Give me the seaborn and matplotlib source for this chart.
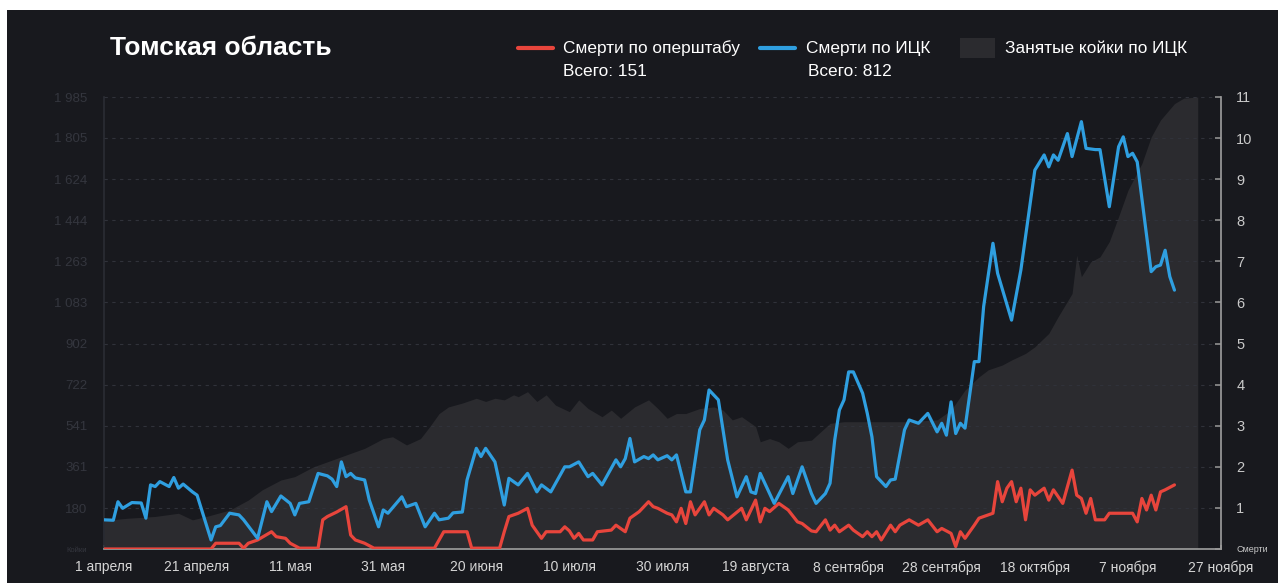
import pandas as pd
import seaborn as sns
import matplotlib.pyplot as plt
from matplotlib.patches import Rectangle
from matplotlib.lines import Line2D

start = pd.Timestamp("2020-04-01")

# Смерти по ИЦК: день от 1 апреля -> значение
icc_days = [0, 2, 3, 4, 6, 8, 9, 10, 11, 12, 14, 15, 16, 17, 19, 20, 23, 24, 25, 27,
            29, 30, 33, 35, 36, 38, 40, 41, 42, 44, 46, 48, 49, 50, 51, 52, 53, 54, 56, 57,
            59, 60, 61, 64, 65, 67, 69, 71, 72, 74, 75, 77, 78, 80, 81, 82, 84, 86, 87, 89,
            91, 93, 94, 96, 99, 100, 102, 104, 105, 107, 110, 111, 112, 113, 114, 116, 117, 118, 119, 121,
            122, 123, 125, 126, 128, 129, 130, 132, 134, 136, 138, 139, 140, 141, 144, 147, 148, 150, 152, 153,
            155, 156, 157, 158, 159, 160, 161, 163, 164, 165, 166, 168, 169, 170, 172, 173, 175, 177, 179, 180,
            181, 182, 183, 184, 185, 187, 188, 189, 191, 192, 195, 197, 200, 202, 203, 204, 205, 207, 208, 210,
            211, 213, 214, 216, 218, 219, 220, 221, 222, 225, 226, 227, 228, 229, 230]
icc_vals = [0.71, 0.70, 1.15, 0.99, 1.13, 1.12, 0.75, 1.56, 1.52, 1.64, 1.52, 1.74, 1.48, 1.58, 1.39, 1.31, 0.22, 0.54, 0.57, 0.87,
            0.83, 0.71, 0.26, 1.15, 0.91, 1.29, 1.11, 0.83, 1.11, 1.15, 1.84, 1.78, 1.70, 1.52, 2.12, 1.76, 1.84, 1.73, 1.68, 1.19,
            0.54, 0.95, 0.87, 1.27, 1.03, 1.11, 0.54, 0.87, 0.71, 0.75, 0.88, 0.90, 1.68, 2.45, 2.25, 2.45, 2.12, 1.07, 1.72, 1.56,
            1.84, 1.39, 1.56, 1.39, 2.00, 2.00, 2.12, 1.76, 1.84, 1.56, 2.17, 2.00, 2.20, 2.69, 2.12, 2.25, 2.20, 2.29, 2.17, 2.27,
            2.17, 2.29, 1.39, 1.39, 2.90, 3.14, 3.87, 3.63, 2.17, 1.27, 1.76, 1.39, 1.35, 1.84, 1.11, 1.76, 1.35, 2.00, 1.35, 1.11,
            1.35, 1.60, 2.65, 3.38, 3.63, 4.31, 4.31, 3.79, 3.30, 2.73, 1.76, 1.52, 1.68, 1.70, 2.90, 3.14, 3.06, 3.30, 2.85, 3.06,
            2.77, 3.58, 2.81, 3.06, 2.94, 4.56, 4.56, 5.90, 7.44, 6.71, 5.57, 6.79, 9.22, 9.59, 9.30, 9.59, 9.46, 10.11, 9.55, 10.40,
            9.75, 9.72, 9.72, 8.33, 9.79, 10.03, 9.55, 9.63, 9.42, 6.75, 6.87, 6.91, 7.27, 6.63, 6.30]

# Смерти по оперштабу
op_days = [0, 23, 24, 29, 30, 31, 33, 36, 37, 39, 40, 42, 46, 47, 48, 50, 52, 53, 54, 56,
           58, 71, 73, 78, 79, 85, 86, 87, 89, 91, 92, 94, 95, 98, 99, 100, 101, 102, 103, 105,
           106, 109, 110, 112, 113, 115, 117, 118, 119, 121, 122, 123, 124, 125, 126, 127, 129, 130, 131, 133,
           134, 137, 138, 140, 141, 142, 143, 145, 147, 149, 150, 152, 153, 155, 156, 157, 158, 160, 161, 163,
           164, 165, 166, 167, 169, 170, 171, 173, 175, 177, 179, 180, 182, 183, 184, 185, 187, 188, 191, 192,
           193, 194, 195, 196, 197, 198, 199, 200, 202, 203, 204, 206, 208, 209, 210, 211, 212, 213, 215, 216,
           221, 222, 223, 224, 225, 226, 227, 228, 230]
op_vals = [0.0, 0.0, 0.14, 0.14, 0.02, 0.14, 0.22, 0.42, 0.30, 0.26, 0.14, 0.02, 0.02, 0.71, 0.79, 0.90, 1.03, 0.34, 0.22, 0.14,
           0.02, 0.02, 0.42, 0.42, 0.02, 0.02, 0.42, 0.79, 0.87, 0.99, 0.58, 0.26, 0.42, 0.42, 0.54, 0.44, 0.26, 0.38, 0.22, 0.22,
           0.42, 0.46, 0.58, 0.42, 0.75, 0.91, 1.15, 1.03, 0.99, 0.87, 0.83, 0.66, 0.99, 0.62, 1.15, 0.83, 1.15, 0.83, 0.99, 0.83,
           0.71, 0.99, 0.71, 1.19, 0.66, 0.99, 0.91, 1.11, 0.95, 0.66, 0.62, 0.44, 0.42, 0.71, 0.46, 0.58, 0.42, 0.58, 0.46, 0.30,
           0.42, 0.30, 0.42, 0.22, 0.58, 0.42, 0.58, 0.71, 0.58, 0.71, 0.42, 0.50, 0.38, 0.06, 0.42, 0.26, 0.58, 0.75, 0.87, 1.64,
           1.15, 1.48, 1.64, 1.15, 1.48, 0.71, 1.44, 1.31, 1.48, 1.19, 1.44, 1.11, 1.92, 1.31, 1.23, 0.87, 1.23, 0.71, 0.71, 0.87,
           0.87, 0.66, 1.23, 0.95, 1.31, 0.95, 1.39, 1.44, 1.56]

# Занятые койки по ИЦК
beds_days = [0, 5, 11, 16, 19, 22, 27, 31, 34, 38, 41, 45, 48, 53, 56, 60, 62, 65, 68, 70,
             72, 74, 77, 80, 82, 84, 86, 88, 89, 91, 93, 95, 97, 100, 102, 104, 107, 109, 111, 114,
             117, 119, 121, 123, 125, 128, 131, 133, 135, 137, 140, 141, 143, 145, 147, 149, 152, 156, 159, 172,
             179, 182, 185, 188, 190, 193, 195, 198, 200, 203, 205, 208, 209, 210, 212, 214, 216, 218, 220, 223,
             225, 227, 230, 232, 235]
beds_vals = [125, 135, 143, 157, 128, 143, 171, 215, 260, 303, 318, 361, 383, 420, 442, 485, 493, 457, 485, 538,
             595, 624, 641, 662, 648, 662, 655, 677, 669, 691, 648, 677, 632, 603, 655, 617, 581, 610, 574, 624,
             655, 617, 574, 595, 595, 617, 624, 610, 567, 581, 538, 471, 485, 471, 442, 471, 478, 552, 559, 559,
             567, 610, 698, 756, 787, 808, 830, 859, 888, 947, 1020, 1122, 1290, 1196, 1261, 1283, 1350, 1460, 1575, 1693,
             1810, 1884, 1956, 1980, 1985]

tick_labels = ["1 апреля", "21 апреля", "11 мая", "31 мая", "20 июня", "10 июля", "30 июля",
               "19 августа", "8 сентября", "28 сентября", "18 октября", "7 ноября", "27 ноября"]
bed_ticks = [0, 180, 361, 541, 722, 902, 1083, 1263, 1444, 1624, 1805, 1985]
bed_labels = ["Койки", "180", "361", "541", "722", "902", "1 083", "1 263", "1 444", "1 624", "1 805", "1 985"]
death_ticks = list(range(0, 12))
death_labels = ["Смерти"] + [str(i) for i in range(1, 12)]

BG = "#18191e"
AREA = "#2b2b2f"
BLUE = "#2f9fe0"
RED = "#e8453c"

icc = pd.DataFrame({"date": start + pd.to_timedelta(icc_days, unit="D"), "val": icc_vals})
op = pd.DataFrame({"date": start + pd.to_timedelta(op_days, unit="D"), "val": op_vals})
beds = pd.DataFrame({"date": start + pd.to_timedelta(beds_days, unit="D"), "val": beds_vals})

sns.set_theme(style="dark")
plt.rcParams['font.family'] = ['Liberation Sans', 'DejaVu Sans']

W, H = 1278, 583
fig = plt.figure(figsize=(W / 100, H / 100), dpi=100, facecolor="white")
fig.patches.append(Rectangle((7 / W, 0), 1 - 7 / W, 1 - 10 / H, transform=fig.transFigure,
                             facecolor=BG, edgecolor="none", zorder=-5))

ax = fig.add_axes([104 / W, 34 / H, 1117 / W, 452 / H])
ax.set_facecolor(BG)
ax.fill_between(beds["date"], 0, beds["val"], color=AREA, linewidth=0, zorder=1)
ax.set_ylim(0, 1985)
ax.set_xlim(start, start + pd.Timedelta(days=240))

ax2 = ax.twinx()
ax2.yaxis.grid(True, linestyle=(0, (3, 4)), color="#30323a", linewidth=0.8, zorder=0)
sns.lineplot(data=op, x="date", y="val", color=RED, linewidth=2.3, ax=ax2, zorder=3)
sns.lineplot(data=icc, x="date", y="val", color=BLUE, linewidth=2.3, ax=ax2, zorder=4)
ax2.set_ylim(0, 11)
ax2.set_xlim(start, start + pd.Timedelta(days=240))
ax.set_xlabel("")
ax2.set_xlabel("")
ax2.set_ylabel("")

# оси
ax.set_xticks(pd.date_range(start, periods=13, freq="20D"))
ax.set_xticklabels(tick_labels, color="#d5d5d5", fontsize=10)
ax.tick_params(axis="x", direction="in", length=3, color="#9a9a9a", pad=8, bottom=True)
ax.set_yticks(bed_ticks)
ax.set_yticklabels(bed_labels, color="#34363e", fontsize=9.5)
ax.tick_params(axis="y", length=0, pad=12)
ax.get_yticklabels()[0].set_fontsize(5.5)

ax2.set_yticks(death_ticks)
ax2.set_yticklabels(death_labels, color="#c9c9c9", fontsize=10.5)
ax2.tick_params(axis="y", direction="in", length=4, color="#8a8a8a", pad=11, right=True)
ax2.get_yticklabels()[0].set_fontsize(6.5)

for a in (ax, ax2):
    for s in a.spines.values():
        s.set_visible(False)
ax2.spines["right"].set_visible(True)
ax2.spines["right"].set_color("#9a9a9a")
ax2.spines["bottom"].set_visible(True)
ax2.spines["bottom"].set_color("#9a9a9a")
ax.spines["left"].set_visible(True)
ax.spines["left"].set_color("#2a2c33")

# заголовок и легенда
fig.text(110 / W, 1 - 48 / H, "Томская область", color="white", fontsize=19,
         fontweight="bold", va="center", ha="left")

def leg_line(x0, color):
    fig.lines.append(Line2D([x0 / W, (x0 + 35) / W], [1 - 48 / H, 1 - 48 / H],
                            transform=fig.transFigure, color=color, linewidth=3))

leg_line(518, RED)
fig.text(563 / W, 1 - 48 / H, "Смерти по оперштабу", color="white", fontsize=12.4, va="center")
fig.text(563 / W, 1 - 72 / H, "Всего: 151", color="white", fontsize=12.4, va="center")
leg_line(760, BLUE)
fig.text(806 / W, 1 - 48 / H, "Смерти по ИЦК", color="white", fontsize=12.4, va="center")
fig.text(808 / W, 1 - 72 / H, "Всего: 812", color="white", fontsize=12.4, va="center")
fig.patches.append(Rectangle((960 / W, 1 - 58 / H), 35 / W, 20 / H, transform=fig.transFigure,
                             facecolor=AREA, edgecolor="none"))
fig.text(1005 / W, 1 - 48 / H, "Занятые койки по ИЦК", color="white", fontsize=12.4, va="center")

fig.savefig("out.png", dpi=100, facecolor=fig.get_facecolor())
